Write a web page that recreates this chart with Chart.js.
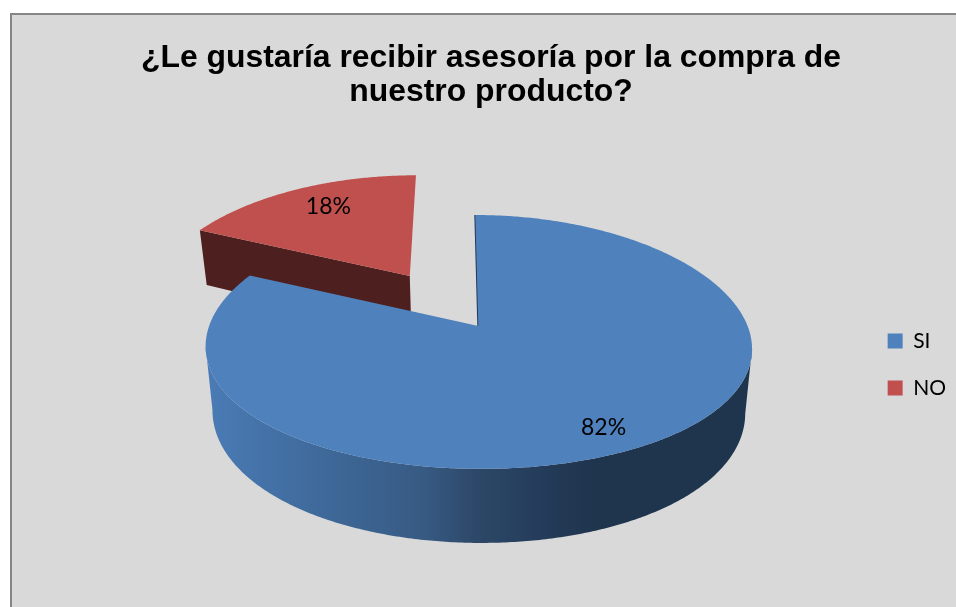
<!DOCTYPE html>
<html>
<head>
<meta charset="utf-8">
<script src="https://cdn.jsdelivr.net/npm/chart.js@4"></script>
<style>
html,body{margin:0;padding:0;background:#fff;overflow:hidden}
#box{position:absolute;left:10px;top:13px;border-left:2px solid #868686;border-top:2px solid #868686;width:944px;height:592px;background:#d9d9d9}
canvas{display:block}
</style>
</head>
<body>
<div id="box"><canvas id="canvas" width="944" height="592"></canvas></div>
<script>
"use strict"
const categories = ["SI","NO"];
const values = [82,18];
const titleLines = ["¿Le gustaría recibir asesoría por la compra de","nuestro producto?"];
const colors = ["#4f81bd","#c0504d"];
const explode = [0,0.5]; //how far each slice is pulled out, in radii

// fake 3D look: perspective of the flat disc
const persp = {
    shiftX:34.5, shiftY:-37.5,   //pie centre relative to the chart area centre
    rx:1.11, ry:0.515,           //multipliers of the library's radius
    kx:0.17, ky:0.126,
    depth:0.2565, kz:0.16, shrink:0.025,
    shear:0.0124,
    labelAt:[0.84,0.76],
    labelTurn:[0.07,0.028]
};

function project(el,u,v,z){
    let r = el.outerRadius;
    let x = el.x + persp.shiftX + r*persp.rx*u/(1+persp.kx*v)*(1-persp.shrink*z) - r*persp.shear*v;
    let y = el.y + persp.shiftY - r*persp.ry*v/(1+persp.ky*v) + z*r*persp.depth/(1+persp.kz*v);
    return {x:x,y:y};
}

function trace(ctx,pts){
    ctx.beginPath();
    pts.forEach(function(p,i){
        if(i==0) ctx.moveTo(p.x,p.y);
        else ctx.lineTo(p.x,p.y);
    });
    ctx.closePath();
}

function arcPoints(el,off,start,end,z){
    let pts = [];
    let n = Math.ceil((end-start)/0.01);
    for(let i=0;i<=n;i++){
        let t = start+(end-start)*i/n;
        pts.push(project(el,off.u+Math.sin(t),off.v+Math.cos(t),z));
    }
    return pts;
}

//the part of an arc between its rightmost and leftmost point, that is the side facing us
function frontPart(pts){
    let a = 0, b = 0;
    pts.forEach(function(p,i){
        if(p.x>pts[a].x) a = i;
        if(p.x<pts[b].x) b = i;
    });
    return pts.slice(a,b+1);
}

function sideFill(ctx,el,i){
    if(i==1) return "#4d1f1e";
    let left = project(el,-1,0,0).x, right = project(el,1,0,0).x;
    let g = ctx.createLinearGradient(left,0,right,0);
    g.addColorStop(0,"#4a7bb5");
    g.addColorStop(0.2,"#3f6a9b");
    g.addColorStop(0.4,"#375a83");
    g.addColorStop(0.5,"#2c4767");
    g.addColorStop(0.62,"#243c5a");
    g.addColorStop(0.72,"#1f344d");
    g.addColorStop(1,"#1f344d");
    return g;
}

const pie3d = {
    id:"pie3d",
    afterLayout(chart){
        //legend sits lower than the layout puts it
        chart.legend.top += 54;
        chart.legend.bottom += 54;
    },
    beforeDatasetsDraw(chart){
        let ctx = chart.ctx;
        let elements = chart.getDatasetMeta(0).data;
        //red goes first, blue overlaps it
        for(let i=elements.length-1;i>=0;i--){
            let el = elements[i];
            let start = el.startAngle+Math.PI/2, end = el.endAngle+Math.PI/2;
            let mid = (start+end)/2;
            let off = {u:explode[i]*Math.sin(mid),v:explode[i]*Math.cos(mid)};
            let top = arcPoints(el,off,start,end,0);
            let bottom = arcPoints(el,off,start,end,1);
            let apexTop = project(el,off.u,off.v,0), apexBottom = project(el,off.u,off.v,1);
            ctx.save();
            ctx.fillStyle = sideFill(ctx,el,i);
            if(i==0){
                //outer wall, only the blue one faces us
                trace(ctx,frontPart(top).concat(frontPart(bottom).reverse()));
                ctx.fill();
                ctx.strokeStyle = "#1f3a5c";
                ctx.lineWidth = 2;
                ctx.beginPath();
                ctx.moveTo(top[0].x,top[0].y);
                ctx.lineTo(apexTop.x,apexTop.y);
                ctx.stroke();
            } else {
                //red: the cut wall under its left edge
                trace(ctx,[apexTop,top[0],bottom[0],apexBottom]);
                ctx.fill();
            }
            ctx.fillStyle = colors[i];
            trace(ctx,[apexTop].concat(top));
            ctx.fill();
            ctx.restore();
        }
        //percentages
        let total = values.reduce(function(a,b){return a+b},0);
        ctx.save();
        ctx.font = "23px Lato";
        ctx.fillStyle = "#000";
        ctx.textAlign = "center";
        ctx.textBaseline = "middle";
        elements.forEach(function(el,i){
            let mid = (el.startAngle+el.endAngle)/2+Math.PI/2+persp.labelTurn[i];
            let f = explode[i]+persp.labelAt[i];
            let p = project(el,f*Math.sin(mid),f*Math.cos(mid),0);
            ctx.fillText(Math.round(values[i]/total*100)+"%",p.x,p.y);
        });
        ctx.restore();
        return false;
    }
};

let chartOptions = {
    type:"pie",
    data:{
        labels:categories,
        datasets:[{
            data:values,
            backgroundColor:colors,
            borderWidth:0
        }]
    },
    options:{
        responsive:false,
        animation:false,
        layout:{padding:{left:14,right:0,top:0,bottom:1}},
        plugins:{
            tooltip:{enabled:false},
            title:{
                display:true,
                text:titleLines,
                color:"#000",
                font:{family:"'Liberation Sans'",size:31.9,weight:"bold",lineHeight:1.08},
                padding:{top:26,bottom:11}
            },
            legend:{
                position:"right",
                labels:{
                    boxWidth:15,
                    boxHeight:15,
                    padding:26,
                    color:"#000",
                    font:{family:"Lato",size:21}
                }
            }
        }
    },
    plugins:[pie3d]
};

let chart = new Chart(document.getElementById("canvas"),chartOptions);
</script>
</body>
</html>
